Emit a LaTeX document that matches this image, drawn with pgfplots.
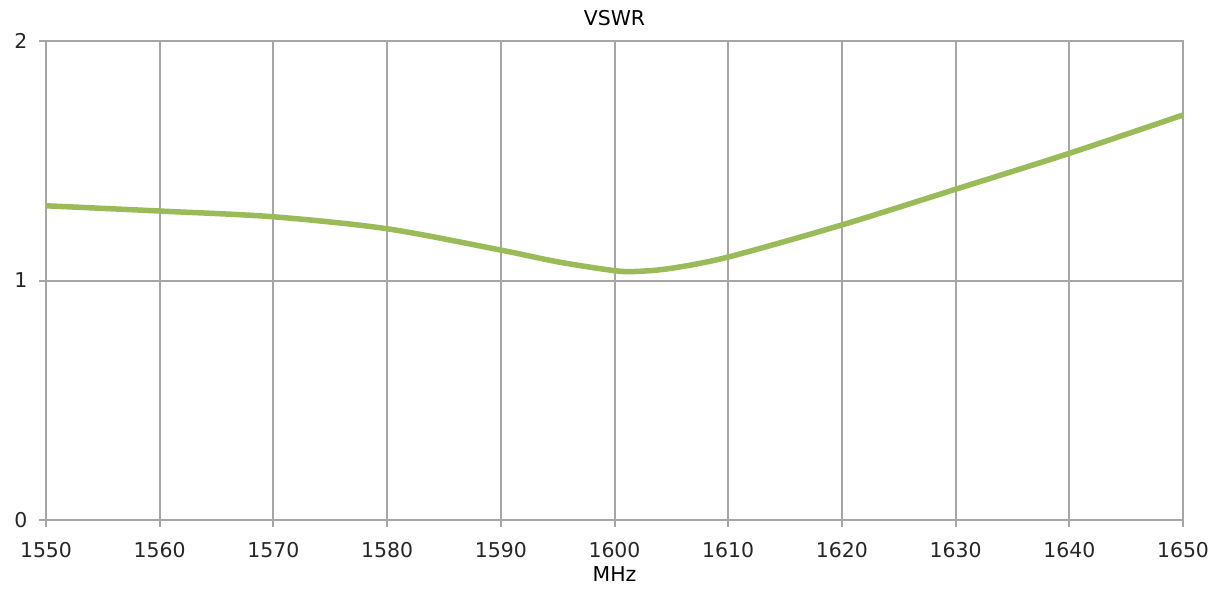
\documentclass[border=0pt]{standalone}
\usepackage{pgfplots}
\pgfplotsset{compat=1.18}
\usepackage{fontspec}
\setmainfont{DejaVu Sans}
\definecolor{gridgray}{RGB}{166,166,166}
\definecolor{vgreen}{RGB}{155,187,89}
\begin{document}
\begin{tikzpicture}
\begin{axis}[
  name=ax,
  scale only axis,
  width=1137bp, height=479bp,
  xmin=1550, xmax=1650, ymin=0, ymax=2,
  xtick={1550,1560,...,1650}, ytick={0,1,2},
  grid=major,
  grid style={gridgray, line width=2bp},
  axis line style={gridgray, line width=2bp},
  axis lines=box,
  tick style={gridgray, line width=2bp},
  tick align=outside,
  major tick length=7bp,
  xtick pos=bottom, ytick pos=left,
  /pgf/number format/assume math mode=true,
  /pgf/number format/1000 sep={},
  ticklabel style={font=\fontsize{20.5}{24}\selectfont, text=black!85},
  xticklabel style={yshift=-12bp},
  yticklabel style={xshift=-8bp},
  title={VSWR},
  title style={font=\fontsize{20.5}{24}\selectfont, yshift=6bp},
  xlabel={MHz},
  xlabel style={font=\fontsize{20.5}{24}\selectfont, yshift=-2bp},
]
\addplot[vgreen, line width=5.5bp, smooth, tension=0.5] coordinates {
(1550,1.312) (1560,1.290) (1570,1.266) (1580,1.216) (1590,1.127)
(1595,1.078) (1600,1.041) (1602,1.038) (1605,1.051) (1610,1.098)
(1620,1.232) (1630,1.381) (1640,1.531) (1650,1.691)
};
\end{axis}
\pgfresetboundingbox
\path ([shift={(-46bp,-78bp)}]ax.south west) rectangle ([shift={(37bp,41bp)}]ax.north east);
\end{tikzpicture}
\end{document}
